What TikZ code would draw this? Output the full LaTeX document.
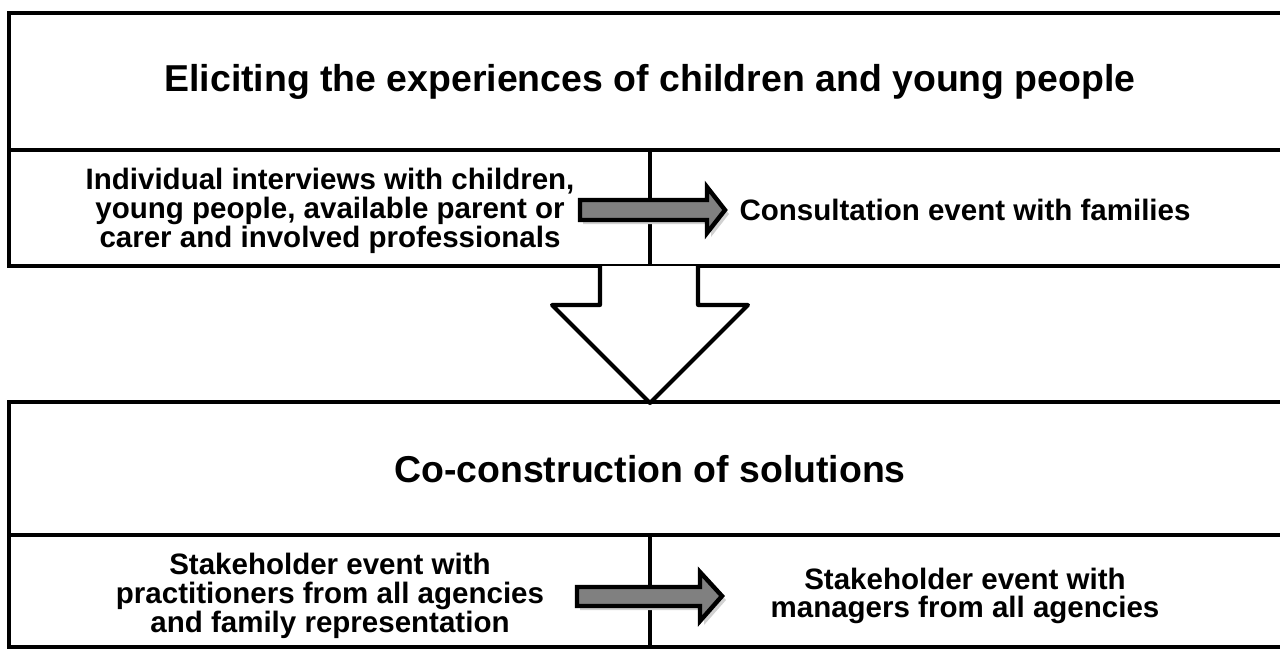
\documentclass[tikz,border=0pt]{standalone}
\usepackage{fontspec}
\setmainfont{Liberation Sans}
\begin{document}
\begin{tikzpicture}[
  x=0.02cm, y=-0.02cm,
  bordo/.style={draw=black, line width=2.3pt},
  titolo/.style={inner sep=0pt, font=\bfseries\fontsize{21.3}{25}\selectfont},
  testo/.style={inner sep=0pt, align=center, font=\bfseries\fontsize{16.8}{16.4}\selectfont},
  freccia/.style={draw=black, line width=2.5pt, fill=black!50, line join=miter},
  ombra/.style={fill=black!18},
  discesa/.style={draw=black, line width=2.3pt, fill=white, line join=round}
]
\useasboundingbox (0,0) rectangle (1280,650);

%--------------------------------------------------------------
% Riquadro superiore
%--------------------------------------------------------------
\draw[bordo] (9,13) rectangle (1300,266);
\draw[bordo] (9,150) -- (1300,150);
\draw[bordo] (650,150) -- (650,266);
\node[titolo] (titoloA) at (650,82) {Eliciting the experiences of children and young people};
\node[testo] (interviste) at (330,211) {Individual interviews with children,\\young people, available parent or\\carer and involved professionals};
\node[testo] (consultazione) at (965,210) {Consultation event with families};
% freccia grigia
\fill[ombra] (583,204) -- (711,204) -- (711,191) -- (729,214) -- (711,237) -- (711,224) -- (583,224) -- cycle;
\draw[freccia] (580,200) -- (707,200) -- (707,187) -- (725,210) -- (707,233) -- (707,220) -- (580,220) -- cycle;

%--------------------------------------------------------------
% Riquadro inferiore
%--------------------------------------------------------------
\draw[bordo] (9,402) rectangle (1300,647);
\draw[bordo] (9,535) -- (1300,535);
\draw[bordo] (650,535) -- (650,647);
\node[titolo] (titoloB) at (650,469) {Co-construction of solutions};
\node[testo] (pratici) at (330,596) {Stakeholder event with\\practitioners from all agencies\\and family representation};
\node[testo] (dirigenti) at (965,596) {Stakeholder event with\\managers from all agencies};
% freccia grigia
\fill[ombra] (580,591) -- (704,591) -- (704,576) -- (726,600) -- (704,625) -- (704,610) -- (580,610) -- cycle;
\draw[freccia] (577,587) -- (700,587) -- (700,572) -- (722,596) -- (700,621) -- (700,606) -- (577,606) -- cycle;

%--------------------------------------------------------------
% Freccia di collegamento tra i due riquadri
%--------------------------------------------------------------
\draw[discesa] (600,266) -- (600,305) -- (552,305) -- (650,403) -- (748,305) -- (698,305) -- (698,266);

\end{tikzpicture}
\end{document}
